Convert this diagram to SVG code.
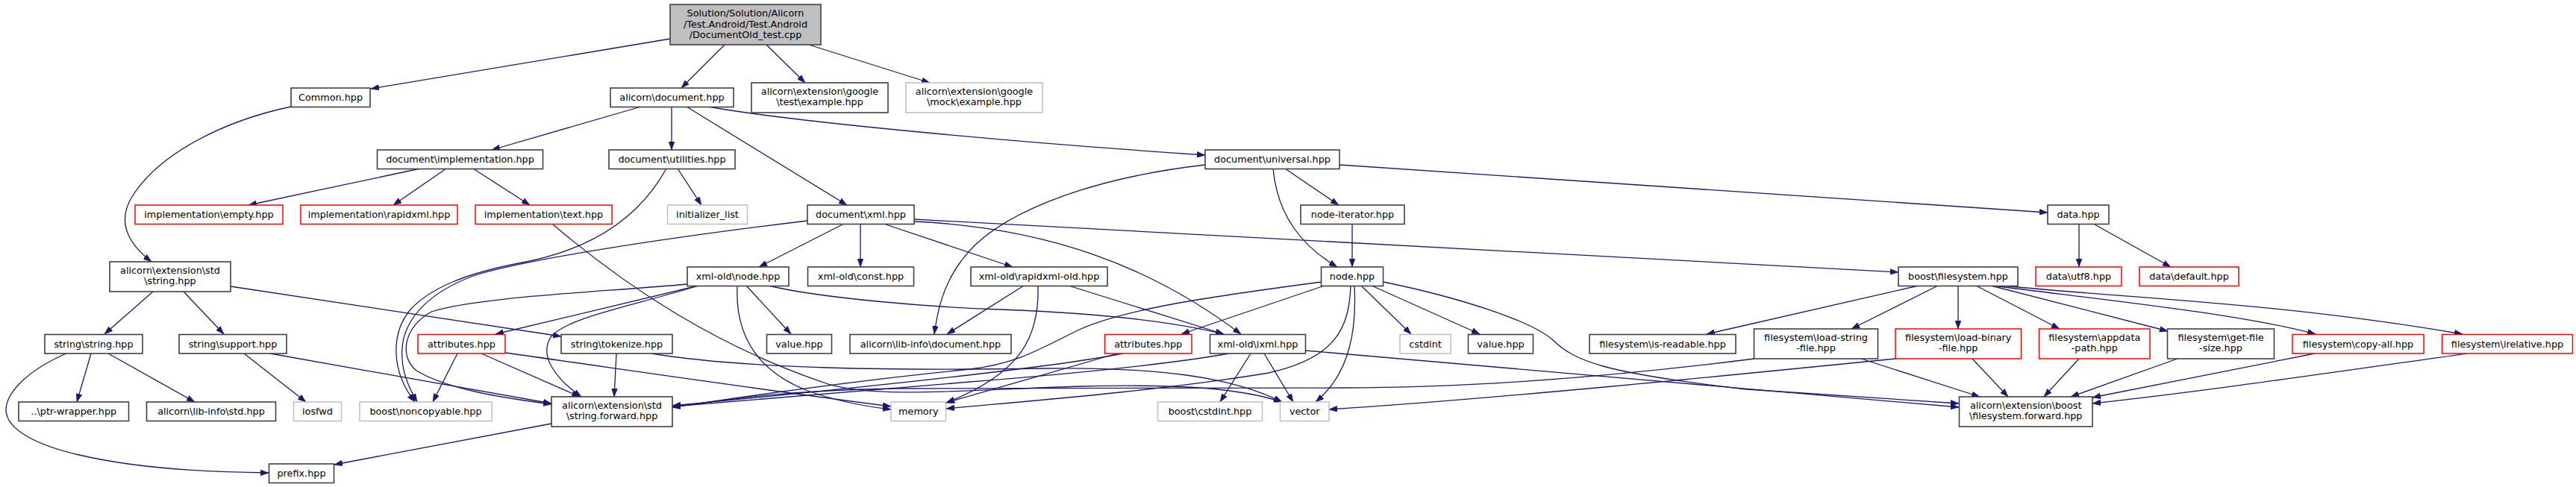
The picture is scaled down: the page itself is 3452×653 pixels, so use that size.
<svg xmlns="http://www.w3.org/2000/svg" width="3452" height="653" viewBox="0 0 3452 653">
<style>
rect{fill:#fff;stroke:#404040;stroke-width:1.6}
.r rect{stroke:#ff0000;stroke-width:1.5}
.g rect{stroke:#bfbfbf;stroke-width:1.5}
.top rect{fill:#bfbfbf;stroke:#404040}
text{font-family:"DejaVu Sans",sans-serif;font-size:12.8px;text-anchor:middle;fill:#000}
#edges path{fill:none;stroke:#191970;stroke-width:1.3;marker-end:url(#ah)}
</style>
<defs>
<marker id="ah" markerWidth="11" markerHeight="8" refX="11" refY="4" orient="auto" markerUnits="userSpaceOnUse"><path d="M0,0 L11,4 L0,8 z" fill="#191970" stroke="#191970" stroke-width="0.5"/></marker>
</defs>
<rect x="0" y="0" width="3452" height="653" style="fill:#fff;stroke:none"/>
<g id="edges">
<path d="M898,52 L497,119"/>
<path d="M971,60 L913,118"/>
<path d="M1027,60 L1079,111"/>
<path d="M1084,60 L1246,111"/>
<path d="M390,143 C300,162 215,205 178,262 C160,290 163,320 203,351"/>
<path d="M859,143 L659,201"/>
<path d="M900,143 L900,201"/>
<path d="M920,143 L1135,275"/>
<path d="M949,143 C1060,163 1350,190 1615,208"/>
<path d="M563,226 L333,275"/>
<path d="M598,226 L527,275"/>
<path d="M634,226 L710,275"/>
<path d="M908,226 L940,275"/>
<path d="M893,226 C855,295 790,335 700,352 C620,367 575,388 550,415 C525,445 522,495 556,539"/>
<path d="M1082,296 C900,318 720,345 640,368 C585,387 548,418 540,458 C535,490 545,515 559,539"/>
<path d="M1129,301 L1017,358"/>
<path d="M1153,301 L1153,358"/>
<path d="M1187,301 L1357,358"/>
<path d="M1225,297 C1400,305 1540,355 1663,448"/>
<path d="M1225,294 L2544,365"/>
<path d="M741,301 C840,385 960,465 1110,515 C1180,535 1300,522 1450,518 C1580,515 1660,520 1718,539"/>
<path d="M936,383 L664,448"/>
<path d="M936,383 C850,410 760,425 738,452 C722,478 745,508 779,532"/>
<path d="M921,381 C800,392 640,398 578,418 C540,440 535,478 558,497 C600,522 670,533 739,542"/>
<path d="M1000,383 L1060,448"/>
<path d="M988,383 C985,445 1010,495 1080,523 C1120,538 1160,545 1194,549"/>
<path d="M1030,383 C1100,400 1250,412 1340,415 C1450,419 1560,428 1640,448"/>
<path d="M1372,383 L1269,448"/>
<path d="M1391,383 C1393,450 1370,500 1268,540"/>
<path d="M1432,383 L1640,448"/>
<path d="M1615,221 C1450,240 1330,290 1288,350 C1262,385 1256,420 1252,448"/>
<path d="M1722,226 L1794,275"/>
<path d="M1706,226 C1712,290 1745,330 1792,358"/>
<path d="M1795,221 L2744,285"/>
<path d="M1812,301 L1812,358"/>
<path d="M2786,301 L2786,358"/>
<path d="M2807,301 L2909,358"/>
<path d="M1775,383 L1583,448"/>
<path d="M1771,378 C1620,398 1500,415 1440,445 C1390,470 1360,488 1300,495 C1100,515 960,538 901,546"/>
<path d="M1810,383 C1808,440 1790,480 1700,500 C1550,525 1350,540 1268,548"/>
<path d="M1815,383 C1818,440 1810,500 1763,539"/>
<path d="M1824,383 L1891,448"/>
<path d="M1838,383 L1983,448"/>
<path d="M1854,378 C1960,400 2050,430 2080,455 C2110,485 2150,500 2340,522 L2625,541"/>
<path d="M1676,474 L1635,539"/>
<path d="M1694,474 L1733,539"/>
<path d="M1749,470 C1800,474 2300,518 2625,546"/>
<path d="M1647,474 C1580,486 1450,500 1300,512 C1100,528 960,540 901,545"/>
<path d="M1497,474 L1268,540"/>
<path d="M1505,474 C1400,495 1100,525 901,544"/>
<path d="M2351,481 C2200,500 2000,520 1800,520 L1200,521 C1050,523 960,538 901,546"/>
<path d="M2540,481 C2300,505 2000,535 1781,549"/>
<path d="M873,474 C1000,495 1200,497 1400,494 C1550,492 1650,505 1718,539"/>
<path d="M613,474 L580,539"/>
<path d="M645,474 L777,532"/>
<path d="M677,473 C800,490 1000,520 1194,545"/>
<path d="M826,474 L823,532"/>
<path d="M362,474 L739,541"/>
<path d="M327,474 L410,539"/>
<path d="M205,391 L140,448"/>
<path d="M246,391 L300,448"/>
<path d="M309,384 L752,451"/>
<path d="M122,474 L103,539"/>
<path d="M145,474 L261,539"/>
<path d="M89,474 C40,495 8,525 8,550 C10,600 150,632 360,634"/>
<path d="M739,568 L448,623"/>
<path d="M2571,383 L2287,448"/>
<path d="M2597,383 L2481,441"/>
<path d="M2624,383 L2624,441"/>
<path d="M2648,383 L2760,441"/>
<path d="M2668,383 L2905,444"/>
<path d="M2671,383 C2800,400 3000,420 3103,448"/>
<path d="M2672,382 C2850,400 3050,405 3300,448"/>
<path d="M2494,481 L2653,532"/>
<path d="M2643,481 L2691,532"/>
<path d="M2786,481 L2739,532"/>
<path d="M2918,481 L2775,532"/>
<path d="M3102,474 L2804,533"/>
<path d="M3306,474 C3100,503 2950,525 2804,541"/>
</g>
<g id="n0" class="top"><rect x="898" y="6" width="202" height="54"/><text x="999" y="22">Solution/Solution/Alicorn</text><text x="999" y="36.5">/Test.Android/Test.Android</text><text x="999" y="51">/DocumentOld_test.cpp</text></g>
<g id="n1"><rect x="390" y="118" width="106" height="25.5"/><text x="443" y="135.2">Common.hpp</text></g>
<g id="n2"><rect x="818" y="118" width="165" height="25.5"/><text x="900.5" y="135.2">alicorn\document.hpp</text></g>
<g id="n3"><rect x="1007" y="111" width="183" height="40"/><text x="1098.5" y="127.2">alicorn\extension\google</text><text x="1098.5" y="141.4">\test\example.hpp</text></g>
<g id="n4" class="g"><rect x="1214" y="111" width="183" height="40"/><text x="1305.5" y="127.2">alicorn\extension\google</text><text x="1305.5" y="141.4">\mock\example.hpp</text></g>
<g id="n5"><rect x="147" y="351" width="162" height="40"/><text x="228" y="367.2">alicorn\extension\std</text><text x="228" y="381.4">\string.hpp</text></g>
<g id="n6"><rect x="505.5" y="201" width="222" height="25.5"/><text x="616.5" y="218.2">document\implementation.hpp</text></g>
<g id="n7"><rect x="816" y="201" width="169" height="25.5"/><text x="900.5" y="218.2">document\utilities.hpp</text></g>
<g id="n8"><rect x="1615" y="201" width="180" height="25.5"/><text x="1705" y="218.2">document\universal.hpp</text></g>
<g id="n9" class="r"><rect x="181" y="275" width="198" height="25.5"/><text x="280" y="292.2">implementation\empty.hpp</text></g>
<g id="n10" class="r"><rect x="403" y="275" width="210" height="25.5"/><text x="508" y="292.2">implementation\rapidxml.hpp</text></g>
<g id="n11" class="r"><rect x="637" y="275" width="183" height="25.5"/><text x="728.5" y="292.2">implementation\text.hpp</text></g>
<g id="n12" class="g"><rect x="894.5" y="275" width="107" height="25.5"/><text x="948" y="292.2">initializer_list</text></g>
<g id="n13"><rect x="1082" y="275" width="143" height="25.5"/><text x="1153.5" y="292.2">document\xml.hpp</text></g>
<g id="n14"><rect x="1743" y="275" width="139" height="25.5"/><text x="1812.5" y="292.2">node-iterator.hpp</text></g>
<g id="n15"><rect x="2744" y="275" width="82" height="25.5"/><text x="2785" y="292.2">data.hpp</text></g>
<g id="n16"><rect x="921" y="358" width="136" height="25.5"/><text x="989" y="375.2">xml-old\node.hpp</text></g>
<g id="n17"><rect x="1082.5" y="358" width="142" height="25.5"/><text x="1153.5" y="375.2">xml-old\const.hpp</text></g>
<g id="n18"><rect x="1301" y="358" width="183" height="25.5"/><text x="1392.5" y="375.2">xml-old\rapidxml-old.hpp</text></g>
<g id="n19"><rect x="1770.5" y="358" width="83" height="25.5"/><text x="1812" y="375.2">node.hpp</text></g>
<g id="n20"><rect x="2544" y="358" width="160" height="25.5"/><text x="2624" y="375.2">boost\filesystem.hpp</text></g>
<g id="n21" class="r"><rect x="2728" y="358" width="115" height="25.5"/><text x="2785.5" y="375.2">data\utf8.hpp</text></g>
<g id="n22" class="r"><rect x="2867" y="358" width="133" height="25.5"/><text x="2933.5" y="375.2">data\default.hpp</text></g>
<g id="n23"><rect x="60" y="448.5" width="131" height="25.5"/><text x="125.5" y="465.7">string\string.hpp</text></g>
<g id="n24"><rect x="240" y="448.5" width="144" height="25.5"/><text x="312" y="465.7">string\support.hpp</text></g>
<g id="n25" class="r"><rect x="560" y="448.5" width="117" height="25.5"/><text x="618.5" y="465.7">attributes.hpp</text></g>
<g id="n26"><rect x="752" y="448.5" width="149" height="25.5"/><text x="826.5" y="465.7">string\tokenize.hpp</text></g>
<g id="n27"><rect x="1027.5" y="448.5" width="87" height="25.5"/><text x="1071" y="465.7">value.hpp</text></g>
<g id="n28"><rect x="1139" y="448.5" width="216" height="25.5"/><text x="1247" y="465.7">alicorn\lib-info\document.hpp</text></g>
<g id="n29" class="r"><rect x="1480.5" y="448.5" width="116.5" height="25.5"/><text x="1538.7" y="465.7">attributes.hpp</text></g>
<g id="n30"><rect x="1621.5" y="448.5" width="128" height="25.5"/><text x="1685.5" y="465.7">xml-old\ixml.hpp</text></g>
<g id="n31" class="g"><rect x="1876" y="448.5" width="68" height="25.5"/><text x="1910" y="465.7">cstdint</text></g>
<g id="n32"><rect x="1967.5" y="448.5" width="87" height="25.5"/><text x="2011" y="465.7">value.hpp</text></g>
<g id="n33"><rect x="2130" y="448.5" width="196" height="25.5"/><text x="2228" y="465.7">filesystem\is-readable.hpp</text></g>
<g id="n34"><rect x="2350.5" y="441" width="166" height="40"/><text x="2433.5" y="457.2">filesystem\load-string</text><text x="2433.5" y="471.4">-file.hpp</text></g>
<g id="n35" class="r"><rect x="2540" y="441" width="168.5" height="40"/><text x="2624.2" y="457.2">filesystem\load-binary</text><text x="2624.2" y="471.4">-file.hpp</text></g>
<g id="n36" class="r"><rect x="2732.5" y="441" width="148.5" height="40"/><text x="2806.8" y="457.2">filesystem\appdata</text><text x="2806.8" y="471.4">-path.hpp</text></g>
<g id="n37"><rect x="2904.5" y="441" width="143" height="40"/><text x="2976" y="457.2">filesystem\get-file</text><text x="2976" y="471.4">-size.hpp</text></g>
<g id="n38" class="r"><rect x="3072" y="448.5" width="176" height="25.5"/><text x="3160" y="465.7">filesystem\copy-all.hpp</text></g>
<g id="n39" class="r"><rect x="3272.5" y="448.5" width="175" height="25.5"/><text x="3360" y="465.7">filesystem\irelative.hpp</text></g>
<g id="n40"><rect x="25" y="539" width="147.5" height="25.5"/><text x="98.8" y="556.2">..\ptr-wrapper.hpp</text></g>
<g id="n41"><rect x="196.5" y="539" width="173" height="25.5"/><text x="283" y="556.2">alicorn\lib-info\std.hpp</text></g>
<g id="n42" class="g"><rect x="393.5" y="539" width="64" height="25.5"/><text x="425.5" y="556.2">iosfwd</text></g>
<g id="n43" class="g"><rect x="482" y="539" width="177" height="25.5"/><text x="570.5" y="556.2">boost\noncopyable.hpp</text></g>
<g id="n44"><rect x="739" y="532" width="162" height="40"/><text x="820" y="548.2">alicorn\extension\std</text><text x="820" y="562.4">\string.forward.hpp</text></g>
<g id="n45" class="g"><rect x="1194" y="539" width="73.5" height="25.5"/><text x="1230.8" y="556.2">memory</text></g>
<g id="n46" class="g"><rect x="1551.5" y="539" width="140" height="25.5"/><text x="1621.5" y="556.2">boost\cstdint.hpp</text></g>
<g id="n47" class="g"><rect x="1715.5" y="539" width="65.5" height="25.5"/><text x="1748.2" y="556.2">vector</text></g>
<g id="n48"><rect x="2625.5" y="532" width="178.5" height="40"/><text x="2714.7" y="548.2">alicorn\extension\boost</text><text x="2714.7" y="562.4">\filesystem.forward.hpp</text></g>
<g id="n49"><rect x="360.5" y="622" width="87" height="25.5"/><text x="404" y="639.2">prefix.hpp</text></g>
</svg>
